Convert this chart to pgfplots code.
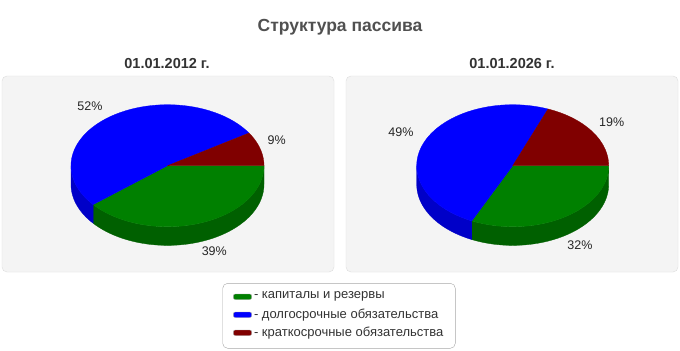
\documentclass[border=0pt]{standalone}
\usepackage{pgfplots}
\pgfplotsset{compat=1.18}
\usepgfplotslibrary{fillbetween}
\usepackage{fontspec}
\setmainfont{Liberation Sans}
\definecolor{cg}{HTML}{008000}
\definecolor{cgd}{HTML}{006000}
\definecolor{cb}{HTML}{0000FF}
\definecolor{cbd}{HTML}{0000C8}
\definecolor{cr}{HTML}{800000}
\definecolor{panel}{HTML}{F4F4F4}
\definecolor{panelb}{HTML}{DDDDDD}
\definecolor{titlec}{HTML}{505050}
\definecolor{subc}{HTML}{333333}
\definecolor{legb}{HTML}{A8A8A8}
% data (percent): capital & reserves, long-term, short-term
\def\LG{39}\def\LB{52}\def\LR{9}
\def\RG{32}\def\RB{49}\def\RR{19}
\pgfmathsetmacro\La{-3.6*\LG}
\pgfmathsetmacro\Lb{-3.6*(\LG+\LB)}
\pgfmathsetmacro\Ra{-3.6*\RG}
\pgfmathsetmacro\Rb{-3.6*(\RG+\RB)}
\begin{document}
\begin{tikzpicture}
\begin{axis}[x=1bp,y=1bp,xmin=0,xmax=680,ymin=0,ymax=350,y dir=reverse,
  axis lines=none,ticks=none,clip=false,at={(0,0)},anchor=north west,
  every axis plot/.append style={line join=round}]
\fill[white] (0,0) rectangle (680,350);
% title
\node[font=\fontsize{17.5bp}{20bp}\selectfont\bfseries,text=titlec,anchor=base] at (340,31.5) {Структура пассива};
\node[font=\fontsize{14.5bp}{17bp}\selectfont\bfseries,text=subc,anchor=base] at (167,68.3) {01.01.2012 г.};
\node[font=\fontsize{14.5bp}{17bp}\selectfont\bfseries,text=subc,anchor=base] at (512,68.3) {01.01.2026 г.};
% panels
\draw[panelb,fill=panel,rounded corners=5bp] (2,76) rectangle (334,272);
\draw[panelb,fill=panel,rounded corners=5bp] (346,76) rectangle (678,272);
% ---- left pie: walls
\addplot[draw=none,name path=LgT,domain=\La:0,samples=60] ({167.5+96.5*cos(x)},{165.7-61*sin(x)});
\addplot[draw=none,name path=LgB,domain=\La:0,samples=60] ({167.5+96.5*cos(x)},{184.4-61*sin(x)});
\addplot[cgd,draw=cgd,line width=0.3bp] fill between[of=LgT and LgB,on layer=main];
\addplot[draw=none,name path=LbT,domain=-180:\La,samples=30] ({167.5+96.5*cos(x)},{165.7-61*sin(x)});
\addplot[draw=none,name path=LbB,domain=-180:\La,samples=30] ({167.5+96.5*cos(x)},{184.4-61*sin(x)});
\addplot[cbd,draw=cbd,line width=0.3bp] fill between[of=LbT and LbB,on layer=main];
% left pie: top
\addplot[fill=cg,draw=cg,line width=0.3bp,domain=\La:0,samples=80] ({167.5+96.5*cos(x)},{165.7-61*sin(x)}) -- (167.5,165.7) -- cycle;
\addplot[fill=cb,draw=cb,line width=0.3bp,domain=\Lb:\La,samples=100] ({167.5+96.5*cos(x)},{165.7-61*sin(x)}) -- (167.5,165.7) -- cycle;
\addplot[fill=cr,draw=cr,line width=0.3bp,domain=-360:\Lb,samples=30] ({167.5+96.5*cos(x)},{165.7-61*sin(x)}) -- (167.5,165.7) -- cycle;
% ---- right pie: walls
\addplot[draw=none,name path=RgT,domain=\Ra:0,samples=60] ({512.7+96*cos(x)},{165.7-61*sin(x)});
\addplot[draw=none,name path=RgB,domain=\Ra:0,samples=60] ({512.7+96*cos(x)},{184.4-61*sin(x)});
\addplot[cgd,draw=cgd,line width=0.3bp] fill between[of=RgT and RgB,on layer=main];
\addplot[draw=none,name path=RbT,domain=-180:\Ra,samples=40] ({512.7+96*cos(x)},{165.7-61*sin(x)});
\addplot[draw=none,name path=RbB,domain=-180:\Ra,samples=40] ({512.7+96*cos(x)},{184.4-61*sin(x)});
\addplot[cbd,draw=cbd,line width=0.3bp] fill between[of=RbT and RbB,on layer=main];
% right pie: top
\addplot[fill=cg,draw=cg,line width=0.3bp,domain=\Ra:0,samples=80] ({512.7+96*cos(x)},{165.7-61*sin(x)}) -- (512.7,165.7) -- cycle;
\addplot[fill=cb,draw=cb,line width=0.3bp,domain=\Rb:\Ra,samples=100] ({512.7+96*cos(x)},{165.7-61*sin(x)}) -- (512.7,165.7) -- cycle;
\addplot[fill=cr,draw=cr,line width=0.3bp,domain=-360:\Rb,samples=50] ({512.7+96*cos(x)},{165.7-61*sin(x)}) -- (512.7,165.7) -- cycle;
% labels
\tikzset{pl/.style={font=\fontsize{12.5bp}{15bp}\selectfont,text=black!85}}
\node[pl] at (90,105.7) {\LB\%};
\node[pl] at (276.7,140) {\LR\%};
\node[pl] at (214.3,251) {\LG\%};
\node[pl] at (401,132.3) {\RB\%};
\node[pl] at (611.7,122.3) {\RR\%};
\node[pl] at (580,245.3) {\RG\%};
% legend
\draw[legb,fill=white,rounded corners=5bp] (222.7,283.3) rectangle (455.3,348.3);
\draw[gray!70,fill=cg,rounded corners=2bp] (233.3,294) rectangle (251.7,299.5);
\draw[gray!70,fill=cb,rounded corners=2bp] (233.3,312) rectangle (251.7,317.5);
\draw[gray!70,fill=cr,rounded corners=2bp] (233.3,330) rectangle (251.7,335.5);
\tikzset{lg/.style={font=\fontsize{13bp}{15bp}\selectfont,text=subc,anchor=west,inner sep=0pt}}
\node[lg] at (253.8,296.7) {- капиталы и резервы};
\node[lg] at (253.8,314.7) {- долгосрочные обязательства};
\node[lg] at (253.8,332.7) {- краткосрочные обязательства};
\end{axis}
\end{tikzpicture}
\end{document}
